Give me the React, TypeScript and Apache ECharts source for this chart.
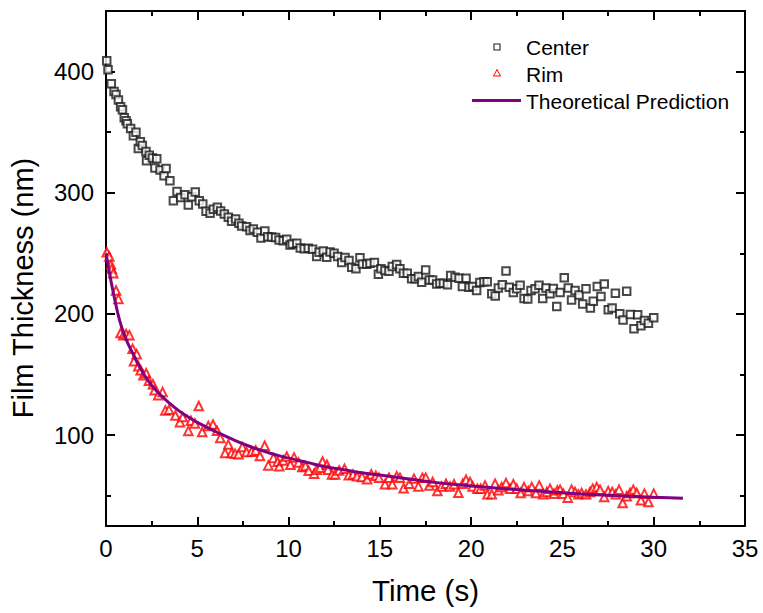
import React, { useEffect, useRef } from 'react';
import * as echarts from 'echarts';

const FONT = 'Arial, "Liberation Sans", Helvetica, sans-serif';

const seriesNames = ['Center', 'Rim', 'Theoretical Prediction'];
const yMajorTicks = [100, 200, 300, 400];
const yMinorTicks = [50, 150, 250, 350];

const centerT = [
  0.04, 0.11, 0.29, 0.44, 0.55, 0.68, 0.8, 0.9, 1.0, 1.1, 1.17, 1.35, 1.5, 1.64, 1.77, 1.88, 1.99, 2.19, 2.22, 2.37,
  2.54, 2.68, 2.78, 2.96, 3.18, 3.29, 3.5, 3.69, 3.89, 4.09, 4.33, 4.51, 4.69, 4.89, 5.11, 5.3, 5.48, 5.7, 5.88, 6.1,
  6.28, 6.48, 6.7, 6.88, 7.1, 7.28, 7.43, 7.7, 7.89, 8.07, 8.29, 8.49, 8.7, 8.86, 9.07, 9.29, 9.48, 9.71, 9.9, 10.08,
  10.2, 10.45, 10.64, 10.86, 11.08, 11.32, 11.54, 11.67, 11.9, 12.09, 12.27, 12.49, 12.69, 12.91, 13.09, 13.31, 13.46, 13.69, 13.91, 14.04,
  14.28, 14.46, 14.7, 14.92, 15.06, 15.28, 15.5, 15.68, 15.92, 16.1, 16.29, 16.5, 16.74, 16.93, 17.11, 17.29, 17.51, 17.71, 17.89, 18.11,
  18.29, 18.48, 18.7, 18.88, 19.12, 19.34, 19.52, 19.72, 19.88, 20.08, 20.3, 20.48, 20.7, 20.88, 21.13, 21.32, 21.49, 21.71, 21.91, 22.09,
  22.31, 22.5, 22.68, 22.9, 23.1, 23.28, 23.5, 23.72, 23.92, 24.1, 24.32, 24.5, 24.69, 24.87, 25.1, 25.32, 25.5, 25.69, 25.91, 26.11,
  26.29, 26.53, 26.69, 26.91, 27.11, 27.29, 27.51, 27.72, 27.9, 28.14, 28.32, 28.52, 28.72, 28.92, 29.12, 29.3, 29.49, 29.71, 30.0,
];
const centerV = [
  409, 401.5, 390, 383.6, 381, 376.5, 371, 368.5, 362, 359.5, 357, 353, 347, 350, 336.6, 342, 339, 334, 326.5, 331,
  328.7, 320.4, 328, 318.8, 314, 320, 310, 293.5, 301, 296, 298.4, 290, 296.8, 300.6, 293.5, 290.8, 284.7, 283, 286.3, 288,
  285, 282.5, 279.7, 276.4, 278.4, 274.8, 272.5, 272, 268.8, 270, 267.4, 262.7, 268.4, 263.8, 263.5, 263, 261, 260.5, 261.6, 256.8,
  257.8, 258.3, 254.5, 253.7, 254.3, 253.3, 247.3, 250.9, 252, 246.8, 251.2, 250, 247.3, 242.5, 246.5, 244, 238.5, 237.2, 246.3, 241.3,
  241, 241.8, 242.4, 232.8, 237.2, 235.8, 235.2, 239.1, 240.7, 237.2, 233.6, 233.6, 229, 229, 230.8, 226.1, 236.3, 228.1, 228.1, 224.8,
  225.3, 225.3, 224, 231.7, 230.3, 229.4, 222.6, 229.4, 222, 222.6, 219.3, 225.9, 226.5, 226.5, 216.6, 214.9, 221.5, 224, 235.5, 222,
  217.6, 220.7, 223.7, 212.7, 212.4, 219.3, 220.7, 223.7, 212.7, 221.5, 216.6, 221, 206.1, 217.6, 229.8, 221.5, 211.6, 219.3, 215.7, 208.3,
  220.7, 205, 210.5, 222.6, 214.3, 224.8, 203.4, 205, 217.1, 200.1, 195.1, 218.7, 199.5, 187.7, 199.3, 190.2, 194.6, 192.3, 196.8,
];

const rimT = [
  0.04, 0.18, 0.27, 0.31, 0.4, 0.55, 0.68, 0.8, 0.95, 1.1, 1.28, 1.46, 1.53, 1.68, 1.77, 1.9, 2.05, 2.2, 2.35, 2.57,
  2.66, 2.86, 3.1, 3.25, 3.45, 3.8, 4.05, 4.2, 4.51, 4.65, 4.87, 5.08, 5.27, 5.6, 5.86, 6.08, 6.26, 6.52, 6.7, 6.88,
  7.07, 7.26, 7.47, 7.7, 7.97, 8.2, 8.43, 8.69, 8.89, 9.17, 9.4, 9.49, 9.71, 9.9, 10.1, 10.3, 10.55, 10.75, 10.92, 11.1,
  11.4, 11.54, 11.72, 11.86, 12.1, 12.16, 12.38, 12.55, 12.77, 13.06, 13.3, 13.53, 13.75, 14.02, 14.3, 14.53, 14.78, 14.95, 15.28, 15.5,
  15.68, 15.92, 16.1, 16.3, 16.61, 16.87, 17.11, 17.33, 17.51, 17.71, 17.89, 18.15, 18.38, 18.62, 18.84, 19.06, 19.3, 19.54, 19.72, 19.94,
  20.08, 20.34, 20.52, 20.76, 20.89, 21.13, 21.31, 21.49, 21.67, 21.91, 22.13, 22.31, 22.5, 22.71, 22.9, 23.13, 23.32, 23.55, 23.73, 23.95,
  24.14, 24.32, 24.54, 24.72, 24.87, 25.05, 25.29, 25.5, 25.69, 25.87, 26.05, 26.29, 26.51, 26.66, 26.88, 27.06, 27.29, 27.51, 27.73, 27.92,
  28.1, 28.3, 28.52, 28.7, 28.88, 29.07, 29.3, 29.49, 29.71, 30.0,
];
const rimV = [
  250.9, 247.3, 240.7, 237.2, 233.6, 219.3, 212.4, 184.2, 182.5, 183.5, 182.5, 171.2, 161, 166.8, 156.8, 153.5, 149.5, 151, 144.8, 142,
  137, 133, 135.5, 120.4, 121, 116.2, 110.7, 115, 103.5, 111.8, 109.6, 124, 102.5, 107.5, 108.8, 103.6, 97.6, 85.2, 92.3, 85.2,
  84.7, 84.3, 90.1, 86, 86.3, 87.4, 82.8, 91.2, 75, 81.2, 78, 74.3, 79.1, 82.4, 75.5, 81.6, 77.5, 73.6, 74.5, 70.6,
  68.2, 71.5, 73.1, 78.2, 75.5, 71.5, 67.5, 67.4, 70.9, 72.3, 66.8, 67.5, 66, 65.5, 63.6, 67.8, 66.4, 64.9, 59.4, 64.9,
  59.4, 66, 64.9, 56.2, 59.9, 64.1, 57.7, 64.9, 64.9, 58.5, 61.3, 53.8, 57.7, 59.9, 57.7, 59.4, 52.4, 59.9, 63.2, 61.3,
  57.7, 55.8, 55.8, 58.5, 51.1, 51.1, 59.9, 54.4, 57.1, 60.4, 55.8, 59.4, 55.8, 52.2, 57.1, 53.8, 57.1, 52.2, 58.5, 51.1,
  53, 55.8, 51.7, 54.4, 55, 51.7, 48.4, 55, 53, 51.1, 52.2, 51.1, 53, 55.8, 57.1, 55, 48.9, 53.8, 53, 51.1,
  55, 44, 49.5, 52.2, 55, 52.2, 46.2, 51.7, 44.8, 51.7,
];

const theoryT = [0, 0.25, 0.5, 0.75, 1, 1.25, 1.5, 2, 2.5, 3, 3.5, 4, 4.5, 5, 6, 7, 8, 9, 10, 11, 12, 13, 14, 15, 16, 18, 20, 22, 24, 26, 28, 30, 31.6];
const theoryV = [250, 229, 210.5, 194.5, 183, 174, 166.5, 152, 141, 133, 126, 120, 115, 110.5, 103, 96, 90, 85, 81, 77.5, 74, 71.5, 69, 67, 65, 61, 58, 55.5, 53.5, 51.5, 50, 48.8, 48];

const zip = (a: number[], b: number[]) => a.map((t, i) => [t, b[i]]);

export default function App() {
  const ref = useRef<HTMLDivElement>(null);
  useEffect(() => {
    const chart = echarts.init(ref.current!, null, { renderer: 'svg' });
    const lineStyle = { color: '#000', width: 2 };
    const xBase = (pos: 'bottom' | 'top', labels: boolean) => ({
      type: 'value',
      position: pos,
      min: 0,
      max: 35,
      interval: 5,
      axisLine: { show: true, onZero: false, lineStyle },
      axisTick: { show: true, inside: true, length: 9, lineStyle },
      minorTick: { show: true, splitNumber: 2, length: 5, lineStyle },
      splitLine: { show: false },
      axisLabel: { show: labels, fontSize: 24, color: '#000', fontFamily: FONT, margin: 10 },
      ...(labels
        ? {
            name: 'Time (s)',
            nameLocation: 'middle',
            nameGap: 49,
            nameTextStyle: { fontSize: 29.5, color: '#000', fontFamily: FONT },
          }
        : {}),
    });
    const yBase = (pos: 'left' | 'right', major: boolean, labels: boolean) => ({
      type: 'value',
      position: pos,
      min: 25,
      max: 450,
      axisLine: { show: major, onZero: false, lineStyle },
      axisTick: { show: true, inside: true, length: major ? 9 : 5, lineStyle, customValues: major ? yMajorTicks : yMinorTicks },
      splitLine: { show: false },
      axisLabel: labels
        ? { show: true, customValues: yMajorTicks, fontSize: 24, color: '#000', fontFamily: FONT, margin: 12 }
        : { show: false },
    });
    chart.setOption({
      animation: false,
      backgroundColor: '#fff',
      grid: { left: 106, right: 18, top: 11, bottom: 87, containLabel: false },
      xAxis: [xBase('bottom', true), xBase('top', false)],
      yAxis: [yBase('left', true, true), yBase('left', false, false), yBase('right', true, false), yBase('right', false, false)],
      legend: {
        data: seriesNames.map((name) => ({ name, icon: 'none' })),
        orient: 'vertical',
        left: 472,
        top: 36,
        padding: 0,
        itemWidth: 49,
        itemHeight: 7,
        itemGap: 5,
        textStyle: { fontSize: 21, lineHeight: 22, color: '#000', fontFamily: FONT },
      },
      graphic: [
        {
          type: 'text',
          x: 23,
          y: 288,
          rotation: Math.PI / 2,
          style: { text: 'Film Thickness (nm)', fontSize: 29, fontFamily: FONT, fill: '#000', align: 'center', verticalAlign: 'middle' },
        },
        {
          type: 'rect',
          shape: { x: 494, y: 44, width: 6, height: 6 },
          style: { fill: '#fff', stroke: '#222', lineWidth: 1.1 },
        },
        {
          type: 'polygon',
          shape: { points: [[497, 69.5], [500.5, 76], [493.5, 76]] },
          style: { fill: '#fff', stroke: '#ff0000', lineWidth: 1 },
        },
        {
          type: 'line',
          shape: { x1: 472, y1: 100.5, x2: 521, y2: 100.5 },
          style: { stroke: '#800080', lineWidth: 3 },
        },
      ],
      series: [
        {
          name: seriesNames[0],
          type: 'scatter',
          data: zip(centerT, centerV),
          symbol: 'emptyRect',
          symbolSize: 7.5,
          itemStyle: { color: '#1a1a1a', borderColor: '#1a1a1a', borderWidth: 1.3 },
        },
        {
          name: seriesNames[1],
          type: 'scatter',
          data: zip(rimT, rimV),
          symbol: 'emptyTriangle',
          symbolSize: 8.5,
          itemStyle: { color: '#ff0000', borderColor: '#ff0000', borderWidth: 1 },
        },
        {
          name: seriesNames[2],
          type: 'line',
          data: zip(theoryT, theoryV),
          symbol: 'none',
          smooth: 0.5,
          lineStyle: { color: '#800080', width: 3 },
          itemStyle: { color: '#800080' },
        },
      ],
    });
    return () => chart.dispose();
  }, []);
  return <div ref={ref} style={{ position: 'fixed', left: 0, top: 0, width: 763, height: 613, background: '#fff' }} />;
}
